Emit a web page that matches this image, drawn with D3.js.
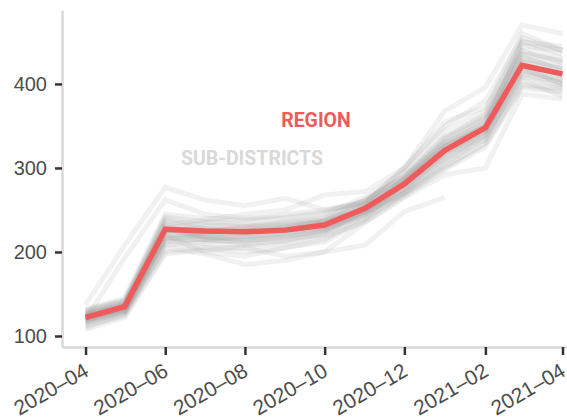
<!DOCTYPE html>
<html>
<head>
<meta charset="utf-8">
<script src="https://cdn.jsdelivr.net/npm/d3@7"></script>
<style>
  body { margin: 0; background: #fff; }
  .axis text { font-family: "Liberation Sans", Arial, sans-serif; font-size: 20px; fill: #4d4d4d; }
  .axis.xax text { font-size: 21px; }
  .axis .domain { stroke: #d9d9d9; stroke-width: 2.5; }
  .axis .tick line { stroke: #333; stroke-width: 2.5; }
  .lbl { font-family: Roboto, "Liberation Sans", sans-serif; font-weight: bold; font-size: 19.5px; }
</style>
</head>
<body>
<svg id="myGraph" width="567" height="417"></svg>
<script>
// 월별 데이터
var months = ["2020-04","2020-05","2020-06","2020-07","2020-08","2020-09","2020-10",
              "2020-11","2020-12","2021-01","2021-02","2021-03","2021-04"];

var regionValues = [122, 135, 227, 225, 224, 226, 232, 252, 281, 321, 348, 422, 412];

// sub-district 라인들 (그림에서 읽은 추정값)
var subDistrictValues = [
  [128, 140, 240, 232, 230, 235, 240, 262, 290, 335, 360, 440, 425],
  [118, 130, 215, 215, 212, 218, 225, 245, 272, 310, 335, 410, 398],
  [125, 138, 230, 222, 226, 228, 236, 255, 285, 325, 350, 430, 420],
  [115, 128, 210, 205, 200, 205, 212, 238, 270, 300, 330, 400, 395],
  [137, 208, 277, 262, 255, 264, 250, 258, 300, 368, 396, 470, 460],
  [120, 193, 262, 245, 240, 242, 248, 260, 288, 330, 355, 445, 440],
  [110, 126, 205, 198, 185, 190, 200, 235, 265, 292, 300, 388, 382],
  [130, 142, 238, 228, 222, 230, 238, 258, 300, 350, 380, 455, 440],
  [122, 134, 222, 220, 218, 224, 230, 250, 278, 312, 342, 415, 405],
  [112, 124, 200, 205, 205, 195, 200, 208, 248, 265, null, null, null],
  [126, 137, 228, 235, 238, 245, 250, 260, 292, 338, 362, 435, 415],
  [119, 131, 218, 210, 208, 212, 222, 245, 275, 318, 345, 425, 410],
  [124, 136, 226, 225, 228, 230, 235, 255, 288, 330, 352, 448, 430],
  [116, 129, 212, 215, 220, 222, 228, 248, 270, 305, 338, 405, 385],
  [132, 145, 245, 240, 238, 240, 245, 265, 295, 345, 368, 460, 440],
  [121, 133, 220, 200, 195, 205, 215, 240, 282, 325, 350, 420, 400],
  [127, 139, 232, 238, 245, 250, 268, 272, 300, 355, 372, 440, 425],
  [114, 127, 208, 212, 214, 216, 220, 242, 268, 302, 328, 398, 392],
  [123, 135, 224, 230, 232, 236, 242, 262, 290, 332, 358, 432, 418],
  [129, 141, 236, 226, 224, 228, 234, 252, 284, 328, 355, 428, 410],
  [117, 130, 214, 220, 225, 226, 230, 248, 276, 318, 340, 412, 402],
  [131, 143, 242, 236, 232, 234, 238, 258, 286, 326, 350, 450, 445],
  [119, 132, 219, 224, 230, 232, 236, 250, 279, 320, 345, 418, 400],
  [125, 137, 229, 218, 214, 218, 226, 248, 282, 322, 348, 423, 408],
  [108, 122, 198, 202, 206, 210, 218, 236, 266, 298, 325, 395, 390],
  [121, 134, 225, 228, 226, 229, 237, 256, 283, 326, 347, 436, 428],
  [126, 138, 233, 216, 210, 214, 224, 250, 287, 336, 364, 452, 435],
  [118, 131, 216, 222, 222, 225, 233, 253, 280, 316, 338, 408, 396],
  [123, 136, 228, 214, 218, 222, 228, 246, 274, 314, 344, 426, 418],
  [120, 133, 221, 218, 216, 220, 226, 244, 271, 308, 334, 416, 404]
];

var yTicks = [100, 200, 300, 400];
var xTickMonths = ["2020-04","2020-06","2020-08","2020-10","2020-12","2021-02","2021-04"];

var parseMonth = d3.timeParse("%Y-%m");
var dates = months.map(parseMonth);

var svg = d3.select("#myGraph");

// 스케일
var x = d3.scaleTime()
          .domain([new Date(2020, 2, 14), new Date(2021, 3, 19)])
          .range([62, 586]);
var y = d3.scaleLinear()
          .domain([86.9, 488])
          .range([347, 10]);

var line = d3.line()
          .defined(function(d){ return d != null; })
          .x(function(d, i){ return x(dates[i]); })
          .y(function(d){ return y(d); });

// 회색 라인
svg.append("g").selectAll("path")
    .data(subDistrictValues)
    .enter()
    .append("path")
    .attr("d", line)
    .attr("fill", "none")
    .attr("stroke", "#9a9a9a")
    .attr("stroke-opacity", 0.14)
    .attr("stroke-width", 5);

// region 라인
svg.append("path")
    .datum(regionValues)
    .attr("d", line)
    .attr("fill", "none")
    .attr("stroke", "#ef5a5a")
    .attr("stroke-width", 5.5);

// 축
svg.append("g")
    .attr("class", "axis")
    .attr("transform", "translate(62,0)")
    .call(d3.axisLeft(y).tickValues(yTicks).tickSize(7).tickSizeOuter(0).tickPadding(8));

var xAxis = svg.append("g")
    .attr("class", "axis xax")
    .attr("transform", "translate(0,347)")
    .call(d3.axisBottom(x).tickValues(xTickMonths.map(parseMonth)).tickSize(8).tickSizeOuter(0)
          .tickFormat(d3.timeFormat("%Y\u2013%m")));

xAxis.selectAll(".tick text")
    .attr("text-anchor", "end")
    .attr("dy", null)
    .attr("y", null)
    .attr("transform", "translate(4,28) rotate(-30)");

// 레이블
svg.append("text").attr("class", "lbl")
    .attr("x", 316).attr("y", 127)
    .attr("text-anchor", "middle")
    .attr("fill", "#ef5a5a")
    .text("REGION");
svg.append("text").attr("class", "lbl")
    .attr("x", 252).attr("y", 165)
    .attr("text-anchor", "middle")
    .attr("fill", "#d9d9d9")
    .text("SUB-DISTRICTS");
</script>
</body>
</html>
